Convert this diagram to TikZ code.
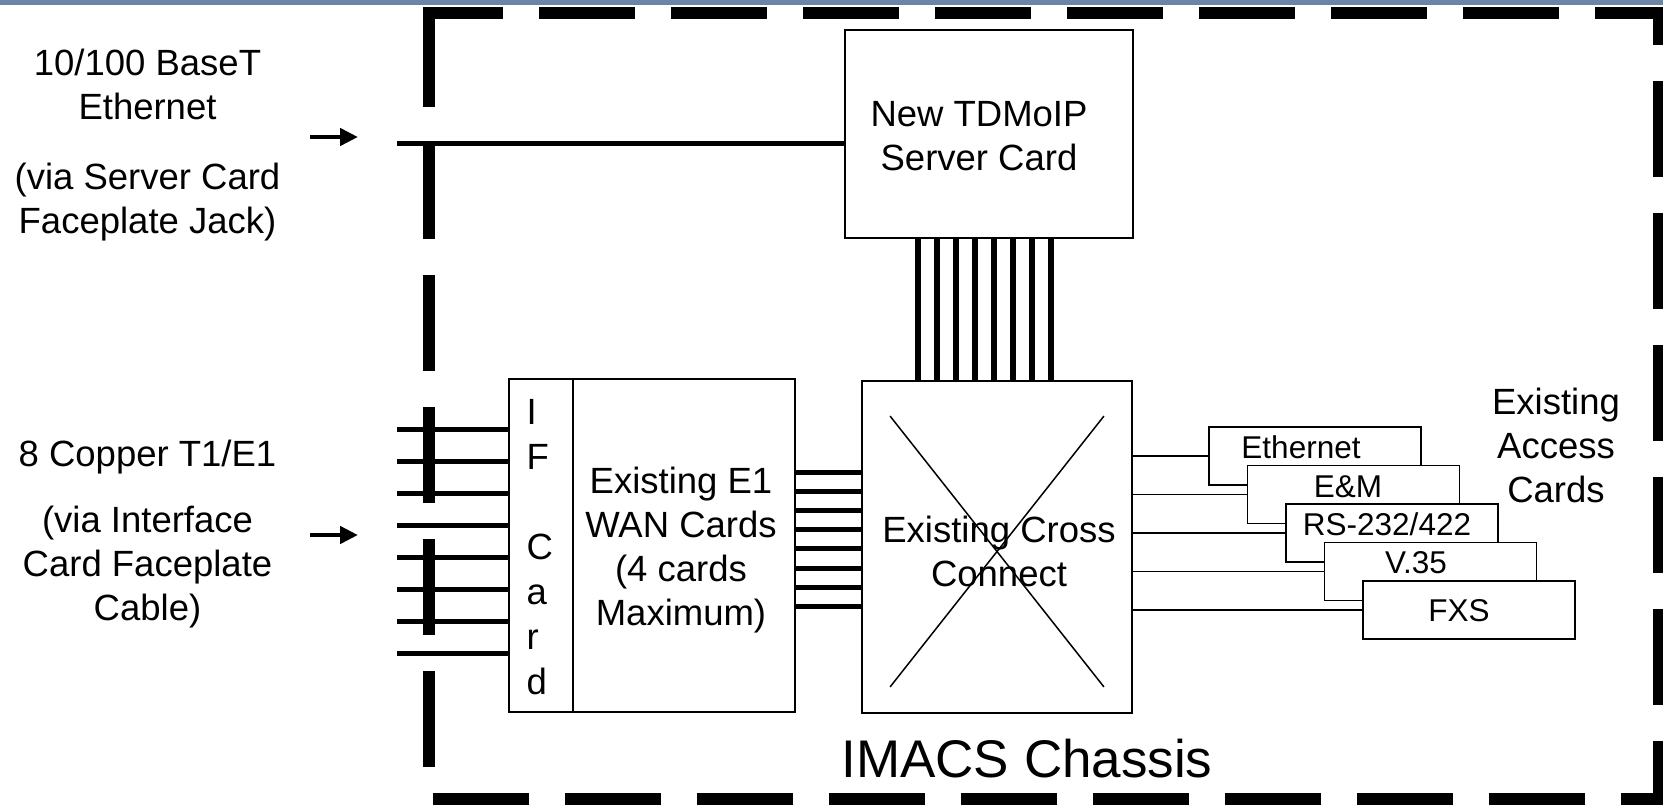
\documentclass[tikz,border=0pt]{standalone}
\usepackage{fontspec}
\setmainfont{Liberation Sans}
\usetikzlibrary{arrows.meta,calc}
\definecolor{topbar}{RGB}{108,133,166}
\begin{document}
\begin{tikzpicture}[x=1pt,y=-1pt,
  txt/.style={inner sep=0pt, align=center, font=\fontsize{36.5}{44}\selectfont},
  cardbox/.style={draw=black, line width=1.8pt, fill=white, inner sep=0pt},
  acbox/.style={cardbox, minimum width=212pt, minimum height=58pt},
  actxt/.style={inner sep=0pt, font=\fontsize{31.5}{38}\selectfont},
  heavyline/.style={line width=5pt},
  thinline/.style={line width=1.8pt},
  chassisframe/.style={line width=12pt, dash pattern=on 84pt off 48pt, dash phase=16pt, line cap=rect, line join=miter},
  inarrow/.style={line width=4.5pt, -{Triangle[length=18pt,width=17pt]}},
]
\useasboundingbox (0,0) rectangle (1663,804);
\fill[topbar] (0,0) rectangle (1663,4.5);

% chassis frame
\draw[chassisframe] (429,13) -- (1659,13) -- (1659,799) -- (429,799) -- cycle;

% boxes
\node[cardbox, minimum width=288pt, minimum height=208pt] (server) at (989,134) {};
\node[cardbox, minimum width=270pt, minimum height=332pt] (xc) at (997,547) {};
\node[cardbox, minimum width=64pt, minimum height=333pt] (ifc) at (541,545.5) {};
\node[cardbox, minimum width=222pt, minimum height=333pt] (e1) at (684,545.5) {};

% cross in the cross connect
\draw[line width=1.5pt] ($(xc.north west)+(29,36)$) -- ($(xc.south east)+(-29,-27)$);
\draw[line width=1.5pt] ($(xc.north east)+(-29,36)$) -- ($(xc.south west)+(29,-27)$);

% access cards
\node[acbox] (eth) at (1315,456) {};
\node[acbox] (em) at (1353.5,494.5) {};
\node[acbox] (rs) at (1392,533) {};
\node[acbox] (v35) at (1430.5,571.5) {};
\node[acbox] (fxs) at (1469,610) {};
\node[actxt] (ethtxt) at (1301,447.5) {Ethernet};
\node[actxt] (emtxt) at (1348,487) {E\&M};
\node[actxt] (rstxt) at (1387,524) {RS-232/422};
\node[actxt] (v35txt) at (1416,563) {V.35};
\node[actxt] (fxstxt) at (1459,610.5) {FXS};

% connectors cross connect -> access cards
\foreach \c in {eth,em,rs,v35,fxs}
  \draw[thinline] (xc.east |- \c.west) -- (\c.west);

% E1 -> cross connect
\foreach \k [evaluate=\k as \yy using 472+19.2*\k] in {0,...,7}
  \draw[heavyline] (e1.east |- 0,\yy) -- (xc.west |- 0,\yy);

% server -> cross connect
\foreach \k [evaluate=\k as \xx using 918+19*\k] in {0,...,7}
  \draw[line width=5.5pt] (server.south -| \xx,0) -- (xc.north -| \xx,0);

% ethernet input
\coordinate (ethin) at (397,143);
\draw[heavyline] (ethin) -- (server.west |- ethin);

% T1/E1 inputs
\foreach \k [evaluate=\k as \yy using 429+32*\k] in {0,...,7}{
  \coordinate (ifin\k) at (397,\yy);
  \draw[heavyline] (ifin\k) -- (ifc.west |- ifin\k);
}

% arrows
\coordinate (a1s) at (310,137);
\coordinate (a1e) at (358,137);
\draw[inarrow] (a1s) -- (a1e);
\coordinate (a2s) at (310,535);
\coordinate (a2e) at (358,535);
\draw[inarrow] (a2s) -- (a2e);

% texts
\node[txt] (servertxt) at (979,139.8) {\strut New TDMoIP\\\strut Server Card};
\node[txt] (xctxt) at (999,555.8) {\strut Existing Cross\\\strut Connect};
\node[txt] (e1txt) at (681,550.3) {\strut Existing E1\\\strut WAN Cards\\\strut (4 cards\\\strut Maximum)};
\node[txt, align=left, anchor=west, font=\fontsize{36.5}{45}\selectfont] (iftxt) at (526.5,550) {\strut I\\\strut F\\\strut\\\strut C\\\strut a\\\strut r\\\strut d};
\node[txt] (acclabel) at (1556,449.3) {\strut Existing\\\strut Access\\\strut Cards};
\node[inner sep=0pt, font=\fontsize{53}{64}\selectfont] (chassis) at (1027,758.5) {IMACS Chassis};

\node[txt] (ethlbl) at (147.5,88.5) {\strut 10/100 BaseT\\\strut Ethernet};
\node[txt] (ethvia) at (147.5,202.3) {\strut (via Server Card\\\strut Faceplate Jack)};
\node[txt] (culbl) at (147.5,457.3) {\strut 8 Copper T1/E1};
\node[txt] (cuvia) at (147.5,567.3) {\strut (via Interface\\\strut Card Faceplate\\\strut Cable)};
\end{tikzpicture}
\end{document}
